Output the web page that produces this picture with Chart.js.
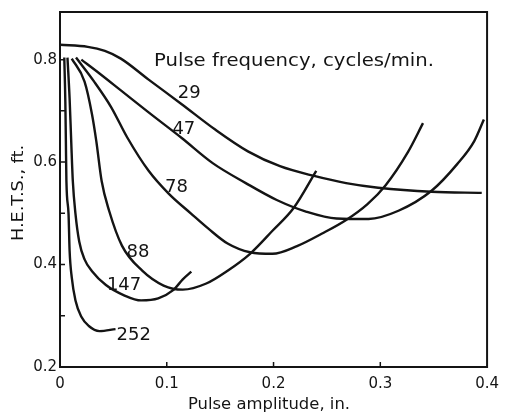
<!DOCTYPE html>
<html>
<head>
<meta charset="utf-8">
<script src="https://cdn.jsdelivr.net/npm/chart.js@4"></script>
<style>
  html, body { margin: 0; padding: 0; background: #fff; }
  #wrap { width: 507px; height: 416px; }
</style>
</head>
<body>
<div id="wrap"><canvas id="c" width="507" height="416"></canvas></div>
<script>
// Pulse frequencies (cycles/min) of the curves
const frequencies = ['29', '47', '78', '88', '147', '252'];

// Pulse amplitude (in.) and H.E.T.S. (ft.) along each curve
const amp29  = [0.000, 0.026, 0.042, 0.057, 0.083, 0.114, 0.145, 0.176, 0.206, 0.238, 0.268, 0.298, 0.348, 0.395];
const hets29 = [0.829, 0.825, 0.817, 0.802, 0.761, 0.713, 0.664, 0.621, 0.592, 0.573, 0.559, 0.550, 0.542, 0.540];

const amp47  = [0.020, 0.037, 0.057, 0.083, 0.114, 0.143, 0.174, 0.203, 0.231, 0.259, 0.289, 0.317, 0.348, 0.372, 0.388, 0.397];
const hets47 = [0.800, 0.773, 0.740, 0.697, 0.647, 0.598, 0.559, 0.526, 0.503, 0.490, 0.489, 0.505, 0.544, 0.596, 0.641, 0.683];

const amp78  = [0.015, 0.032, 0.048, 0.063, 0.083, 0.102, 0.123, 0.139, 0.157, 0.178, 0.199, 0.222, 0.245, 0.268, 0.288, 0.305, 0.326, 0.340];
const hets78 = [0.804, 0.757, 0.707, 0.648, 0.583, 0.538, 0.499, 0.470, 0.441, 0.424, 0.421, 0.436, 0.460, 0.487, 0.518, 0.555, 0.620, 0.676];

const amp88  = [0.011, 0.023, 0.030, 0.034, 0.039, 0.046, 0.058, 0.077, 0.097, 0.115, 0.137, 0.157, 0.178, 0.199, 0.219, 0.240];
const hets88 = [0.802, 0.757, 0.693, 0.641, 0.563, 0.505, 0.437, 0.388, 0.359, 0.351, 0.363, 0.388, 0.421, 0.466, 0.511, 0.583];

const amp147  = [0.007, 0.009, 0.0105, 0.012, 0.0145, 0.018, 0.023, 0.030, 0.043, 0.060, 0.076, 0.092, 0.106, 0.115, 0.123];
const hets147 = [0.804, 0.724, 0.641, 0.563, 0.499, 0.445, 0.410, 0.387, 0.360, 0.340, 0.330, 0.334, 0.350, 0.371, 0.386];

const amp252  = [0.004, 0.005, 0.0055, 0.006, 0.008, 0.009, 0.011, 0.0145, 0.020, 0.027, 0.037, 0.052];
const hets252 = [0.804, 0.718, 0.641, 0.563, 0.499, 0.427, 0.375, 0.330, 0.298, 0.280, 0.270, 0.274];

// Axis ticks
const xTicks = [0, 0.1, 0.2, 0.3, 0.4];
const yTicks = [0.2, 0.4, 0.6, 0.8];
const yMinorTicks = [0.3, 0.5, 0.7];

// Where each frequency label sits, in axis units
const labelAmp  = [0.121, 0.116, 0.109, 0.073, 0.060, 0.069];
const labelHets = [0.734, 0.664, 0.550, 0.423, 0.359, 0.262];

const ink = '#141414';
const FONT = '"DejaVu Sans", "Liberation Sans", sans-serif';

const series = [
  [amp29, hets29], [amp47, hets47], [amp78, hets78],
  [amp88, hets88], [amp147, hets147], [amp252, hets252]
];

const datasets = series.map(([xs, ys], i) => ({
  label: frequencies[i],
  data: xs.map((x, k) => ({ x, y: ys[k] })),
  showLine: true,
  borderColor: ink,
  borderWidth: 2.4,
  pointRadius: 0,
  cubicInterpolationMode: 'monotone',
  fill: false
}));

// Text stretched horizontally to a given width (the lettering is wide)
function wideText(ctx, str, x, y, width, align) {
  const w = ctx.measureText(str).width;
  const k = width ? width / w : 1;
  ctx.save();
  ctx.translate(x, y);
  ctx.scale(k, 1);
  ctx.textAlign = align;
  ctx.fillText(str, 0, 0);
  ctx.restore();
}

// Frame, inward ticks, axis titles and curve labels
const decorations = {
  id: 'decorations',
  afterDraw(chart) {
    const { ctx, chartArea: a, scales: { x, y } } = chart;
    ctx.save();
    ctx.strokeStyle = ink;
    ctx.lineWidth = 2;
    ctx.strokeRect(a.left, a.top, a.right - a.left, a.bottom - a.top);

    ctx.lineWidth = 1.5;
    ctx.beginPath();
    yTicks.concat(yMinorTicks).forEach(v => {
      const py = y.getPixelForValue(v);
      ctx.moveTo(a.left, py);
      ctx.lineTo(a.left + 5, py);
    });
    xTicks.slice(1, -1).forEach(v => {
      const px = x.getPixelForValue(v);
      ctx.moveTo(px, a.bottom);
      ctx.lineTo(px, a.bottom - 5);
    });
    ctx.stroke();

    ctx.fillStyle = ink;
    ctx.textBaseline = 'middle';
    ctx.font = '16px ' + FONT;
    wideText(ctx, 'Pulse amplitude, in.', 269, 405, 162, 'center');
    ctx.save();
    ctx.translate(19, 193);
    ctx.rotate(-Math.PI / 2);
    wideText(ctx, 'H.E.T.S., ft.', 0, 0, 96, 'center');
    ctx.restore();

    ctx.font = '17px ' + FONT;
    wideText(ctx, 'Pulse frequency, cycles/min.', x.getPixelForValue(0.088), y.getPixelForValue(0.796), 280, 'left');

    ctx.font = '18px ' + FONT;
    ctx.textAlign = 'center';
    frequencies.forEach((f, i) => {
      ctx.fillText(f, x.getPixelForValue(labelAmp[i]), y.getPixelForValue(labelHets[i]));
    });
    ctx.restore();
  }
};

new Chart(document.getElementById('c'), {
  type: 'scatter',
  data: { datasets },
  options: {
    responsive: false,
    animation: false,
    layout: { padding: { top: 10, right: 14, left: 0, bottom: 0 } },
    plugins: { legend: { display: false }, tooltip: { enabled: false } },
    scales: {
      x: {
        type: 'linear',
        min: 0,
        max: 0.4,
        afterBuildTicks: s => { s.ticks = xTicks.map(v => ({ value: v })); },
        afterFit: s => { s.height = 49; },
        grid: { display: false, drawTicks: false },
        border: { display: false },
        ticks: {
          color: ink,
          padding: 8,
          font: { family: FONT, size: 15 },
          maxRotation: 0,
          callback: v => (v === 0 ? '0' : v.toFixed(1))
        }
      },
      y: {
        type: 'linear',
        min: 0.2,
        max: 0.893,
        afterBuildTicks: s => { s.ticks = yTicks.map(v => ({ value: v })); },
        afterFit: s => { s.width = 60; },
        grid: { display: false, drawTicks: false },
        border: { display: false },
        ticks: {
          color: ink,
          padding: 3,
          font: { family: FONT, size: 15 },
          callback: v => v.toFixed(1)
        }
      }
    }
  },
  plugins: [decorations]
});
</script>
</body>
</html>
